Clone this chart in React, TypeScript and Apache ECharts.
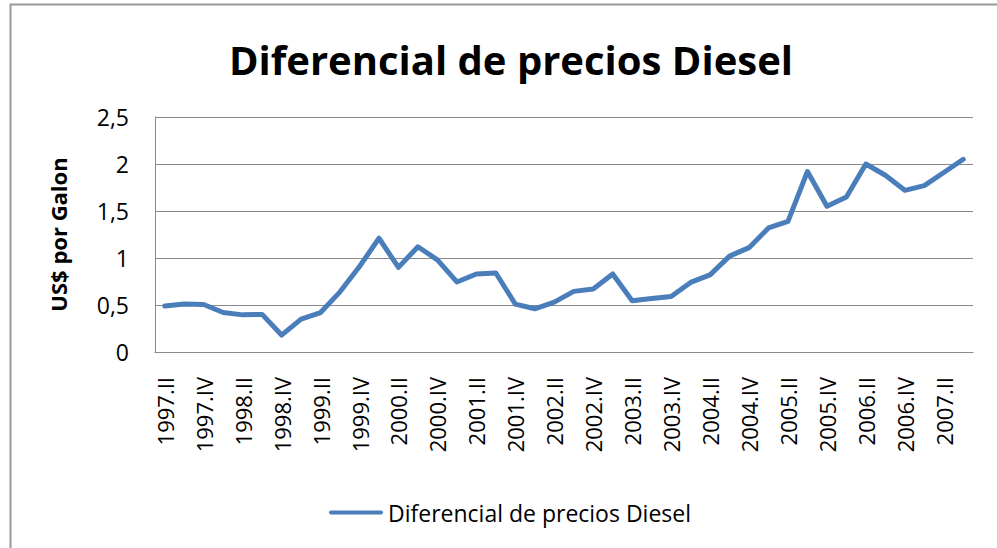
import React, { useEffect, useRef } from "react";
import * as echarts from "echarts";

const years = ["1997", "1998", "1999", "2000", "2001", "2002", "2003", "2004", "2005", "2006", "2007"];
const quarters = ["I", "II", "III", "IV"];
const categories: string[] = [];
years.forEach((y) => quarters.forEach((q) => categories.push(`${y}.${q}`)));
const quarterLabels = categories.slice(1, 43); // 1997.II .. 2007.III

const diffValues = [
  0.49, 0.51, 0.505, 0.42, 0.395, 0.40, 0.18, 0.35, 0.42, 0.64,
  0.91, 1.21, 0.90, 1.12, 0.98, 0.745, 0.83, 0.84, 0.51, 0.46,
  0.53, 0.645, 0.67, 0.83, 0.545, 0.57, 0.59, 0.74, 0.82, 1.02,
  1.11, 1.32, 1.39, 1.92, 1.55, 1.65, 2.0, 1.88, 1.72, 1.77,
  1.91, 2.05,
];

const titleText = "Diferencial de precios Diesel";
const seriesName = "Diferencial de precios Diesel";
const yAxisName = "US$ por Galon";

const FONT = "'Open Sans', 'Noto Sans', sans-serif";

export default function App() {
  const ref = useRef<HTMLDivElement>(null);
  useEffect(() => {
    if (!ref.current) return;
    const chart = echarts.init(ref.current, null, { renderer: "svg" });
    chart.setOption({
      animation: false,
      backgroundColor: "#ffffff",
      textStyle: { fontFamily: FONT },
      title: {
        text: titleText,
        left: 224,
        top: 34,
        textStyle: { fontFamily: FONT, fontSize: 40, fontWeight: "bold", color: "#000" },
      },
      graphic: [
        { type: "line", shape: { x1: 10, y1: 4.5, x2: 997, y2: 4.5 }, style: { stroke: "#999", lineWidth: 2 } },
        { type: "line", shape: { x1: 10.5, y1: 4, x2: 10.5, y2: 548 }, style: { stroke: "#999", lineWidth: 2 } },
      ],
      grid: { left: 155, right: 24, top: 117, bottom: 196, containLabel: false },
      legend: {
        left: 324,
        top: 496,
        itemWidth: 54,
        itemHeight: 14,
        icon: "path://M2,0 L52,0 A2,2 0 0 1 52,4 L2,4 A2,2 0 0 1 2,0 Z",
        textStyle: { fontFamily: FONT, fontSize: 23, color: "#000" },
        data: [seriesName],
      },
      xAxis: {
        type: "category",
        data: quarterLabels,
        boundaryGap: true,
        axisLine: { show: true, lineStyle: { color: "#8a8a8a", width: 1 } },
        axisTick: { show: false },
        axisLabel: {
          interval: 1,
          rotate: 90,
          margin: 25,
          fontFamily: FONT,
          fontSize: 22,
          color: "#000",
        },
        splitLine: { show: false },
      },
      yAxis: {
        type: "value",
        min: 0,
        max: 2.5,
        interval: 0.5,
        name: yAxisName,
        nameLocation: "middle",
        nameRotate: 90,
        nameGap: 86,
        nameTextStyle: { fontFamily: FONT, fontSize: 22, fontWeight: "bold", color: "#000" },
        axisLine: { show: true, lineStyle: { color: "#8a8a8a", width: 1 } },
        axisTick: { show: false },
        axisLabel: {
          margin: 26,
          fontFamily: FONT,
          fontSize: 23,
          color: "#000",
          formatter: (v: number) => String(v).replace(".", ","),
        },
        splitLine: { show: true, lineStyle: { color: "#8a8a8a", width: 1 } },
      },
      series: [
        {
          name: seriesName,
          type: "line",
          data: diffValues,
          showSymbol: false,
          symbol: "none",
          lineStyle: { color: "#4a7ebb", width: 5, cap: "round", join: "round" },
          itemStyle: { color: "#4a7ebb" },
        },
      ],
    });
    return () => chart.dispose();
  }, []);
  return (
    <div
      ref={ref}
      style={{ position: "fixed", left: 0, top: 0, width: 997, height: 548, background: "#fff" }}
    />
  );
}
